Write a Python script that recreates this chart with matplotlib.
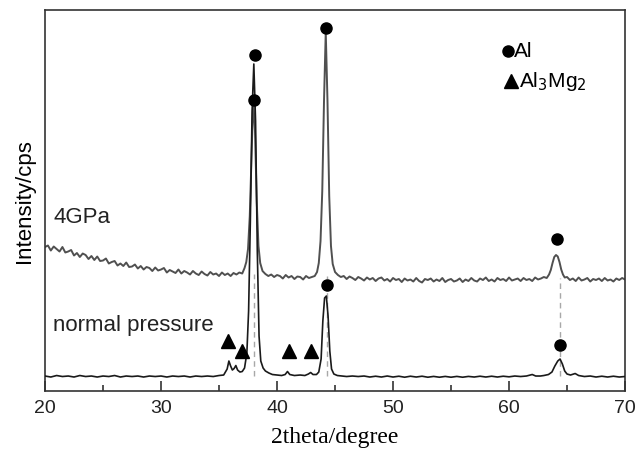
import matplotlib
matplotlib.use('Agg')
import matplotlib.pyplot as plt
import numpy as np

plt.rcParams['font.family'] = ['Liberation Sans', 'DejaVu Sans']

# XRD pattern (2theta in degrees, intensity in arbitrary cps)
x_4gpa = [20.0, 20.25, 20.5, 20.75, 21.0, 21.25, 21.5, 21.75, 22.0, 22.25, 22.5, 22.75,
          23.0, 23.25, 23.5, 23.75, 24.0, 24.25, 24.5, 24.75, 25.0, 25.25, 25.5, 25.75,
          26.0, 26.25, 26.5, 26.75, 27.0, 27.25, 27.5, 27.75, 28.0, 28.25, 28.5, 28.75,
          29.0, 29.25, 29.5, 29.75, 30.0, 30.25, 30.5, 30.75, 31.0, 31.25, 31.5, 31.75,
          32.0, 32.25, 32.5, 32.75, 33.0, 33.25, 33.5, 33.75, 34.0, 34.25, 34.5, 34.75,
          35.0, 35.25, 35.5, 35.75, 36.0, 36.25, 36.5, 36.75, 37.0,
          37.2, 37.35, 37.5, 37.65, 37.8, 37.95, 38.1, 38.25, 38.4, 38.55, 38.75, 39.0,
          39.25, 39.5, 39.75, 40.0, 40.25, 40.5, 40.75, 41.0, 41.25, 41.5, 41.75, 42.0,
          42.25, 42.5, 42.75, 43.0, 43.25, 43.45, 43.6, 43.75, 43.9, 44.05, 44.2, 44.35,
          44.5, 44.65, 44.8, 45.0, 45.25, 45.5, 45.75, 46.0, 46.25, 46.5, 46.75, 47.0,
          47.25, 47.5, 47.75, 48.0, 48.25, 48.5, 48.75, 49.0, 49.25, 49.5, 49.75, 50.0,
          50.25, 50.5, 50.75, 51.0, 51.25, 51.5, 51.75, 52.0, 52.25, 52.5, 52.75, 53.0,
          53.25, 53.5, 53.75, 54.0, 54.25, 54.5, 54.75, 55.0, 55.25, 55.5, 55.75, 56.0,
          56.25, 56.5, 56.75, 57.0, 57.25, 57.5, 57.75, 58.0, 58.25, 58.5, 58.75, 59.0,
          59.25, 59.5, 59.75, 60.0, 60.25, 60.5, 60.75, 61.0, 61.25, 61.5, 61.75, 62.0,
          62.25, 62.5, 62.75, 63.0, 63.25, 63.45, 63.6, 63.75, 63.9, 64.05, 64.2, 64.35,
          64.5, 64.65, 64.8, 65.0, 65.25, 65.5, 65.75, 66.0, 66.25, 66.5, 66.75, 67.0,
          67.25, 67.5, 67.75, 68.0, 68.25, 68.5, 68.75, 69.0, 69.25, 69.5, 69.75, 70.0]
i_4gpa = [1440, 1455, 1405, 1445, 1420, 1395, 1440, 1385, 1395, 1410, 1355, 1380,
          1340, 1375, 1360, 1320, 1350, 1310, 1345, 1300, 1305, 1325, 1275, 1290,
          1300, 1255, 1275, 1250, 1285, 1240, 1245, 1265, 1225, 1250, 1215, 1240,
          1230, 1200, 1235, 1205, 1215, 1230, 1185, 1210, 1195, 1180, 1215, 1175,
          1200, 1185, 1165, 1200, 1175, 1160, 1195, 1170, 1155, 1190, 1165, 1175,
          1150, 1185, 1160, 1175, 1150, 1180, 1165, 1185, 1175,
          1230, 1290, 1420, 1750, 2350, 2920, 2600, 1900, 1450, 1280, 1200, 1170,
          1150, 1165, 1140, 1160, 1150, 1125, 1160, 1135, 1150, 1120, 1145, 1140,
          1115, 1150, 1130, 1140, 1150, 1190, 1280, 1500, 2000, 2900, 3590, 2900,
          1950, 1450, 1270, 1190, 1160, 1140, 1150, 1120, 1145, 1130, 1110, 1140,
          1125, 1105, 1135, 1115, 1130, 1100, 1125, 1135, 1105, 1120, 1095, 1130,
          1110, 1120, 1090, 1125, 1105, 1115, 1095, 1130, 1100, 1085, 1120, 1110,
          1125, 1095, 1115, 1100, 1130, 1090, 1110, 1120, 1095, 1105, 1125, 1090,
          1115, 1100, 1130, 1105, 1095, 1125, 1110, 1135, 1100, 1115, 1095, 1130,
          1110, 1120, 1100, 1135, 1105, 1115, 1125, 1100, 1130, 1110, 1120, 1100,
          1135, 1115, 1125, 1140, 1130, 1165, 1210, 1280, 1340, 1360, 1345, 1290,
          1215, 1165, 1135, 1140, 1110, 1125, 1100, 1135, 1105, 1115, 1130, 1095,
          1120, 1110, 1125, 1100, 1130, 1105, 1115, 1095, 1125, 1110, 1130, 1115]

x_normal = [20.0, 20.5, 21.0, 21.5, 22.0, 22.5, 23.0, 23.5, 24.0, 24.5, 25.0, 25.5,
            26.0, 26.5, 27.0, 27.5, 28.0, 28.5, 29.0, 29.5, 30.0, 30.5, 31.0, 31.5,
            32.0, 32.5, 33.0, 33.5, 34.0, 34.5, 35.0, 35.4, 35.7, 35.85, 36.0, 36.15,
            36.3, 36.45, 36.6, 36.8, 37.0, 37.2, 37.4, 37.55, 37.7, 37.85, 38.0, 38.15,
            38.3, 38.45, 38.6, 38.8, 39.0, 39.3, 39.6, 40.0, 40.4, 40.7, 40.9, 41.1,
            41.5, 42.0, 42.4, 42.7, 42.9, 43.1, 43.4, 43.6, 43.8, 43.95, 44.1, 44.25,
            44.4, 44.55, 44.7, 44.9, 45.2, 45.6, 46.0, 46.5, 47.0, 47.5, 48.0, 48.5,
            49.0, 49.5, 50.0, 50.5, 51.0, 51.5, 52.0, 52.5, 53.0, 53.5, 54.0, 54.5,
            55.0, 55.5, 56.0, 56.5, 57.0, 57.5, 58.0, 58.5, 59.0, 59.5, 60.0, 60.5,
            61.0, 61.5, 62.0, 62.3, 62.7, 63.0, 63.4, 63.7, 63.95, 64.2, 64.4, 64.6,
            64.8, 65.0, 65.3, 65.7, 66.0, 66.5, 67.0, 67.5, 68.0, 68.5, 69.0, 69.5, 70.0]
i_normal = [150, 140, 155, 145, 150, 140, 155, 145, 150, 140, 150, 145,
            155, 140, 150, 145, 150, 140, 150, 145, 150, 140, 150, 145,
            150, 140, 150, 145, 150, 145, 155, 160, 220, 300, 250, 210,
            225, 255, 210, 190, 195, 230, 380, 800, 1700, 2800, 3270, 2700,
            1400, 550, 300, 230, 200, 180, 165, 160, 155, 165, 195, 165,
            155, 160, 155, 170, 185, 165, 165, 190, 320, 700, 930, 950,
            750, 400, 220, 170, 155, 150, 145, 150, 145, 150, 140, 148,
            140, 150, 140, 148, 138, 148, 140, 148, 138, 146, 138, 146,
            138, 146, 138, 146, 140, 148, 140, 148, 140, 148, 142, 150,
            145, 150, 165, 150, 150, 155, 165, 190, 250, 300, 320, 270,
            200, 170, 160, 175, 155, 145, 150, 140, 148, 140, 148, 140, 145]

# phase markers
al_x = [38.1, 38.0, 44.2, 44.3, 64.1, 64.4]
al_y = [3360, 2910, 3630, 1060, 1520, 460]
al3mg2_x = [35.8, 37.0, 41.0, 42.9]
al3mg2_y = [500, 400, 400, 400]

# dashed guide lines linking the two patterns
guide_x = [38.0, 44.3, 64.4]
guide_lo = [150, 150, 150]
guide_hi = [1170, 1150, 1130]

fig = plt.figure(figsize=(6.35, 4.52), dpi=100)
ax = fig.add_axes([0.0709, 0.1327, 0.9134, 0.843])

ax.vlines(guide_x, guide_lo, guide_hi, colors='#a8a8a8', linestyles=(0, (4, 3)), linewidth=1.0, zorder=1)
ax.plot(x_4gpa, i_4gpa, color='#505050', linewidth=1.4, zorder=2)
ax.plot(x_normal, i_normal, color='#1a1a1a', linewidth=1.2, zorder=3)

ax.plot(al_x, al_y, 'o', color='black', markersize=8, zorder=4)
ax.plot(al3mg2_x, al3mg2_y, '^', color='black', markersize=10, zorder=4)

ax.text(20.7, 1750, '4GPa', fontsize=16, va='center', ha='left', color='#222222')
ax.text(20.7, 670, 'normal pressure', fontsize=16, va='center', ha='left', color='#222222')

# legend drawn by hand
ax.plot([59.9], [3400], 'o', color='black', markersize=8)
ax.text(60.4, 3400, 'Al', fontsize=15, va='center', ha='left')
ax.plot([60.2], [3100], '^', color='black', markersize=10)
ax.text(60.9, 3100, 'Al$_3$Mg$_2$', fontsize=15, va='center', ha='left')

ax.set_xlim(20, 70)
ax.set_ylim(0, 3810)
ax.set_xticks(np.arange(20, 71, 10))
ax.set_xticks(np.arange(25, 70, 10), minor=True)
ax.set_yticks([])
ax.tick_params(axis='x', which='major', direction='in', length=7, width=1.1, labelsize=14, pad=6, colors='#222222')
ax.tick_params(axis='x', which='minor', direction='in', length=4, width=1.1, colors='#222222')
for s in ax.spines.values():
    s.set_linewidth(1.2)
    s.set_color('#333333')

ax.set_ylabel('Intensity/cps', fontsize=16, labelpad=7)
ax.set_xlabel('2theta/degree', fontsize=17, family='Liberation Serif', labelpad=7)

fig.savefig('out.png', dpi=100)
